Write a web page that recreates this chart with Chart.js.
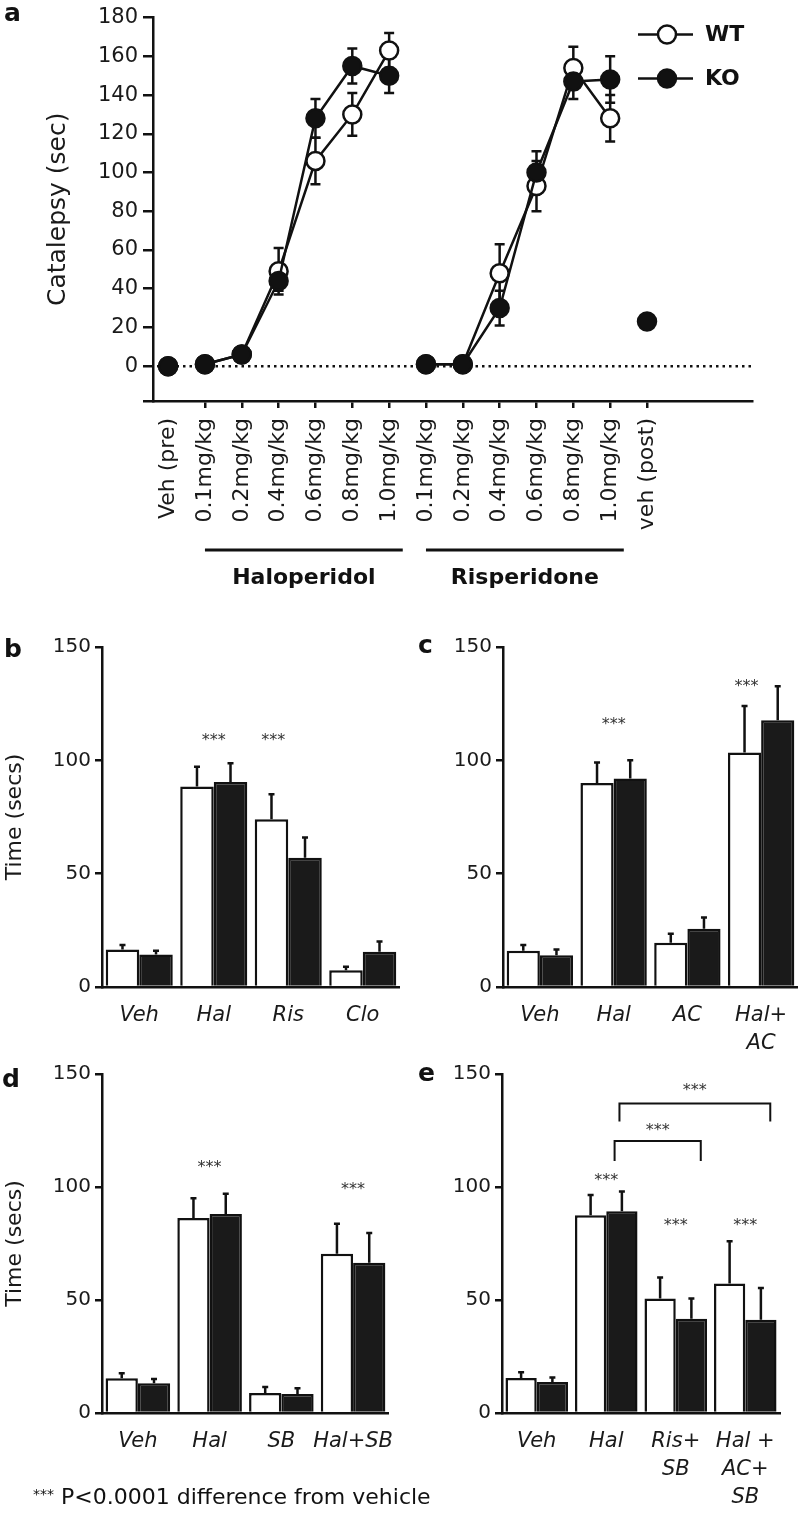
<!DOCTYPE html>
<html>
<head>
<meta charset="utf-8">
<script src="https://cdn.jsdelivr.net/npm/chart.js@4.4.0/dist/chart.umd.min.js"></script>
<style>
  body { margin: 0; background: #fff; width: 798px; height: 1517px; position: relative; overflow: hidden;
         font-family: "DejaVu Sans", sans-serif; color: #111; }
  canvas { position: absolute; }
  .tag { position: absolute; font-weight: bold; font-size: 25px; line-height: 1; }
  .note { position: absolute; left: 33px; top: 1484px; font-size: 22px; white-space: nowrap; }
  .note span { font-size: 14px; vertical-align: 5px; }
</style>
</head>
<body>
<canvas id="chartA" width="798" height="600" style="left:0;top:0"></canvas>
<canvas id="chartB" width="400" height="430" style="left:0;top:625px"></canvas>
<canvas id="chartC" width="399" height="430" style="left:399px;top:625px"></canvas>
<canvas id="chartD" width="400" height="467" style="left:0;top:1050px"></canvas>
<canvas id="chartE" width="399" height="467" style="left:399px;top:1050px"></canvas>

<div class="tag" style="left:4px;top:0">a</div>
<div class="tag" style="left:4px;top:636px">b</div>
<div class="tag" style="left:418px;top:632px">c</div>
<div class="tag" style="left:2px;top:1066px">d</div>
<div class="tag" style="left:418px;top:1060px">e</div>
<div class="note"><span>***</span> P&lt;0.0001 difference from vehicle</div>

<script>
const FONT = '"DejaVu Sans", sans-serif';
const INK = '#111';

// ---- panel a: dose response ----
const doseLabels = ['Veh (pre)', '0.1mg/kg', '0.2mg/kg', '0.4mg/kg', '0.6mg/kg', '0.8mg/kg', '1.0mg/kg',
                    '0.1mg/kg', '0.2mg/kg', '0.4mg/kg', '0.6mg/kg', '0.8mg/kg', '1.0mg/kg', 'veh (post)'];
const doseGroup = ['pre', 'hal', 'hal', 'hal', 'hal', 'hal', 'hal', 'ris', 'ris', 'ris', 'ris', 'ris', 'ris', 'post'];
const wtCatalepsy    = [0, 1, 6, 49, 106, 130, 163, 1, 1, 48, 93, 154, 128, null];
const wtCatalepsyErr = [0, 1, 1, 12, 12, 11, 9, 1, 1, 15, 13, 11, 12, null];
const koCatalepsy    = [0, 1, 6, 44, 128, 155, 150, 1, 1, 30, 100, 147, 148, 23];
const koCatalepsyErr = [0, 1, 1, 5, 10, 9, 9, 1, 1, 9, 11, 9, 12, 0];
const catalepsyTicks = [0, 20, 40, 60, 80, 100, 120, 140, 160, 180];
const drugGroups = [{ name: 'Haloperidol', from: 1, to: 6 }, { name: 'Risperidone', from: 7, to: 12 }];

// ---- panel b ----
const labelsB = ['Veh', 'Hal', 'Ris', 'Clo'];
const wtB = [16.5, 88.5, 74, 7.4];
const wtErrB = [2, 8.7, 11, 1.5];
const koB = [14.3, 90.4, 57, 15.6];
const koErrB = [1.7, 8.3, 9, 4.5];
const starsB = [{ group: 1, shift: 0, at: 110 }, { group: 2, shift: -0.2, at: 110 }];

// ---- panel c ----
const labelsC = ['Veh', 'Hal', 'AC', ['Hal+', 'AC']];
const wtC = [16, 90, 19.5, 103.5];
const wtErrC = [2.5, 9, 4, 20.5];
const koC = [14, 92, 25.7, 117.7];
const koErrC = [2.5, 8, 5, 15];
const starsC = [{ group: 1, shift: 0, at: 117 }, { group: 3, shift: -0.2, at: 133.6 }];

// ---- panel d ----
const labelsD = ['Veh', 'Hal', 'SB', 'Hal+SB'];
const wtD = [15.4, 86.3, 8.8, 70.5];
const wtErrD = [2.2, 8.7, 2.7, 13.2];
const koD = [13.2, 88, 8.4, 66.5];
const koErrD = [1.8, 9, 2.6, 13.2];
const starsD = [{ group: 1, shift: 0, at: 110 }, { group: 3, shift: 0, at: 100 }];

// ---- panel e ----
const labelsE = ['Veh', 'Hal', ['Ris+', 'SB'], ['Hal +', 'AC+', 'SB']];
const wtE = [15.5, 87.5, 50.7, 57.3];
const wtErrE = [2.5, 9, 9.3, 18.7];
const koE = [13.7, 89.3, 41.7, 41.3];
const koErrE = [2, 8.7, 9, 14];
const starsE = [{ group: 1, shift: 0, at: 104 }, { group: 2, shift: 0, at: 84 }, { group: 3, shift: 0, at: 84 }];
const bracketsE = [
  { from: 1.12, to: 2.36, top: 120.4, leg: 111.5, label: 126 },
  { from: 1.19, to: 3.36, top: 137, leg: 129, label: 144 }
];

const barTicks = [0, 50, 100, 150];

// error bars, drawn under the points (line) or over the bars (bar)
function drawErrors(chart, opts) {
  const { ctx } = chart;
  const y = chart.scales.y;
  ctx.save();
  ctx.strokeStyle = INK;
  ctx.lineWidth = 2.5;
  chart.data.datasets.forEach((ds, i) => {
    const meta = chart.getDatasetMeta(i);
    ds.errors.forEach((e, j) => {
      const raw = ds.data[j];
      const v = raw !== null && typeof raw === 'object' ? raw.y : raw;
      if (v === null || e === null || !e) return;
      const el = meta.data[j];
      const top = y.getPixelForValue(v + e);
      const bot = opts.both ? y.getPixelForValue(v - e) : el.y;
      ctx.beginPath();
      ctx.moveTo(el.x, bot); ctx.lineTo(el.x, top);
      ctx.moveTo(el.x - opts.cap, top); ctx.lineTo(el.x + opts.cap, top);
      if (opts.both) { ctx.moveTo(el.x - opts.cap, bot); ctx.lineTo(el.x + opts.cap, bot); }
      ctx.stroke();
    });
  });
  ctx.restore();
}

const errorBars = {
  id: 'errorBars',
  beforeDatasetsDraw(chart, args, opts) { if (opts.under) drawErrors(chart, opts); },
  afterDatasetsDraw(chart, args, opts) { if (!opts.under) drawErrors(chart, opts); }
};

const annotate = {
  id: 'annotate',
  afterDatasetsDraw(chart, args, opts) {
    const { ctx } = chart;
    const { x, y } = chart.scales;
    ctx.save();
    ctx.fillStyle = '#333';
    ctx.font = '16px ' + FONT;
    ctx.textAlign = 'center';
    ctx.textBaseline = 'middle';
    (opts.stars || []).forEach(s => {
      ctx.fillText('***', x.getPixelForValue(s.group + s.shift), y.getPixelForValue(s.at) + 3);
    });
    ctx.strokeStyle = INK;
    ctx.lineWidth = 2;
    (opts.brackets || []).forEach(b => {
      const x1 = x.getPixelForValue(b.from), x2 = x.getPixelForValue(b.to);
      const yt = y.getPixelForValue(b.top), yl = y.getPixelForValue(b.leg);
      ctx.beginPath();
      ctx.moveTo(x1, yl); ctx.lineTo(x1, yt); ctx.lineTo(x2, yt); ctx.lineTo(x2, yl);
      ctx.stroke();
      ctx.fillText('***', (x1 + x2) / 2, y.getPixelForValue(b.label) + 3);
    });
    ctx.restore();
  }
};

// dotted zero line, legend and drug brackets for panel a
const doseExtras = {
  id: 'doseExtras',
  beforeDatasetsDraw(chart) {
    const { ctx, chartArea } = chart;
    const y0 = chart.scales.y.getPixelForValue(0);
    ctx.save();
    ctx.strokeStyle = INK;
    ctx.lineWidth = 2.5;
    ctx.setLineDash([2.5, 4]);
    ctx.beginPath();
    ctx.moveTo(chartArea.left + 4, y0); ctx.lineTo(chartArea.right, y0);
    ctx.stroke();
    ctx.restore();
  },
  afterDraw(chart) {
    const { ctx, chartArea } = chart;
    const x = chart.scales.x;
    ctx.save();
    // legend
    const entries = [{ name: 'WT', fill: '#fff', dy: 17 }, { name: 'KO', fill: INK, dy: 61 }];
    entries.forEach(en => {
      const ly = chartArea.top + en.dy;
      const lx = chartArea.right - 114;
      ctx.strokeStyle = INK; ctx.lineWidth = 2.5;
      ctx.beginPath(); ctx.moveTo(lx, ly); ctx.lineTo(lx + 55, ly); ctx.stroke();
      ctx.beginPath(); ctx.arc(lx + 29, ly, 9, 0, Math.PI * 2);
      ctx.fillStyle = en.fill; ctx.fill(); ctx.stroke();
      ctx.fillStyle = INK;
      ctx.font = 'bold 22px ' + FONT;
      ctx.textAlign = 'left'; ctx.textBaseline = 'middle';
      ctx.fillText(en.name, lx + 67, ly + 1);
    });
    // drug group brackets
    drugGroups.forEach(g => {
      const x1 = x.getPixelForValue(g.from), x2 = x.getPixelForValue(g.to + 0.37);
      const ly = chartArea.bottom + 149;
      ctx.strokeStyle = INK; ctx.lineWidth = 3;
      ctx.beginPath(); ctx.moveTo(x1, ly); ctx.lineTo(x2, ly); ctx.stroke();
      ctx.fillStyle = INK;
      ctx.font = 'bold 22px ' + FONT;
      ctx.textAlign = 'center'; ctx.textBaseline = 'middle';
      ctx.fillText(g.name, (x1 + x2) / 2, chartArea.bottom + 177);
    });
    ctx.restore();
  }
};

const sameGroup = c => doseGroup[c.p0DataIndex] === doseGroup[c.p1DataIndex] ? INK : 'rgba(0,0,0,0)';

new Chart(document.getElementById('chartA'), {
  type: 'line',
  data: {
    datasets: [
      {
        label: 'WT', order: 2,
        data: wtCatalepsy.map((v, i) => ({ x: i, y: v })),
        errors: wtCatalepsyErr,
        borderColor: INK, borderWidth: 2.5,
        pointRadius: 9, pointBackgroundColor: '#fff', pointBorderColor: INK, pointBorderWidth: 2.5,
        segment: { borderColor: sameGroup }, spanGaps: false
      },
      {
        label: 'KO', order: 1,
        data: koCatalepsy.map((v, i) => ({ x: i, y: v })),
        errors: koCatalepsyErr,
        borderColor: INK, borderWidth: 2.5,
        pointRadius: 9, pointBackgroundColor: INK, pointBorderColor: INK, pointBorderWidth: 2.5,
        segment: { borderColor: sameGroup }, spanGaps: false
      }
    ]
  },
  options: {
    responsive: false, animation: false,
    layout: { padding: { top: 15, right: 46, left: 0, bottom: 0 } },
    plugins: { legend: { display: false }, tooltip: { enabled: false },
               errorBars: { under: true, both: true, cap: 5 } },
    scales: {
      x: {
        type: 'linear', min: -0.41, max: 15.85,
        afterBuildTicks: s => { s.ticks = doseLabels.map((_, i) => ({ value: i })); },
        afterFit: s => { s.height = 199; },
        border: { color: INK, width: 2.5 },
        grid: { drawOnChartArea: false, tickLength: 7, lineWidth: 2.5,
                color: c => (c.index === 0 ? 'rgba(0,0,0,0)' : INK) },
        ticks: { autoSkip: false, minRotation: 90, maxRotation: 90, padding: 10, color: '#1a1a1a',
                 font: { family: FONT, size: 22 }, callback: v => doseLabels[v] }
      },
      y: {
        min: -18, max: 180,
        afterBuildTicks: s => { s.ticks = [-18].concat(catalepsyTicks).map(v => ({ value: v })); },
        afterFit: s => { s.width = 153; },
        border: { color: INK, width: 2.5 },
        grid: { drawOnChartArea: false, tickLength: 10, lineWidth: 2.5, color: INK },
        ticks: { padding: 5, color: '#1a1a1a', font: { family: FONT, size: 21 },
                 callback: v => (v < 0 ? '' : v) },
        title: { display: true, text: 'Catalepsy (sec)', color: '#1a1a1a',
                 font: { family: FONT, size: 25 }, padding: { top: 43, bottom: 0 } }
      }
    }
  },
  plugins: [errorBars, doseExtras]
});

function barPanel(id, labels, wt, wtErr, ko, koErr, extra) {
  return new Chart(document.getElementById(id), {
    type: 'bar',
    data: {
      labels,
      datasets: [
        { label: 'WT', data: wt, errors: wtErr, backgroundColor: '#fff', borderColor: INK, borderWidth: 2.5,
          categoryPercentage: 0.9, barPercentage: 1.0 },
        { label: 'KO', data: ko, errors: koErr, backgroundColor: '#1a1a1a', borderColor: INK, borderWidth: 2.5,
          categoryPercentage: 0.9, barPercentage: 1.0 }
      ]
    },
    options: {
      responsive: false, animation: false,
      layout: { padding: { top: extra.top, right: extra.right, left: 0, bottom: 0 } },
      plugins: { legend: { display: false }, tooltip: { enabled: false },
                 errorBars: { under: false, both: false, cap: 3 },
                 annotate: { stars: extra.stars, brackets: extra.brackets } },
      scales: {
        x: {
          afterFit: s => { s.height = extra.xHeight; },
          border: { color: INK, width: 2.5 },
          grid: { display: false },
          ticks: { padding: 6, color: '#1a1a1a', autoSkip: false, minRotation: 0, maxRotation: 0,
                   font: { family: FONT, size: 21, style: 'italic', lineHeight: 1.35 } }
        },
        y: {
          min: 0, max: 150,
          afterBuildTicks: s => { s.ticks = barTicks.map(v => ({ value: v })); },
          afterFit: s => { s.width = extra.yWidth; },
          border: { color: INK, width: 2.5 },
          grid: { drawOnChartArea: false, tickLength: 7, lineWidth: 2.5, color: INK },
          ticks: { padding: 4, color: '#1a1a1a', font: { family: FONT, size: 20 } },
          title: { display: !!extra.title, text: extra.title || '', color: '#1a1a1a',
                   font: { family: FONT, size: 22 }, padding: { top: 2, bottom: 0 } }
        }
      }
    },
    plugins: [errorBars, annotate]
  });
}

barPanel('chartB', labelsB, wtB, wtErrB, koB, koErrB,
  { top: 22, right: 0, xHeight: 68, yWidth: 102, title: 'Time (secs)', stars: starsB });
barPanel('chartC', labelsC, wtC, wtErrC, koC, koErrC,
  { top: 22, right: 0, xHeight: 68, yWidth: 104, stars: starsC });
barPanel('chartD', labelsD, wtD, wtErrD, koD, koErrD,
  { top: 24, right: 8, xHeight: 104, yWidth: 102, title: 'Time (secs)', stars: starsD });
barPanel('chartE', labelsE, wtE, wtErrE, koE, koErrE,
  { top: 24, right: 18, xHeight: 104, yWidth: 103, stars: starsE, brackets: bracketsE });
</script>
</body>
</html>
